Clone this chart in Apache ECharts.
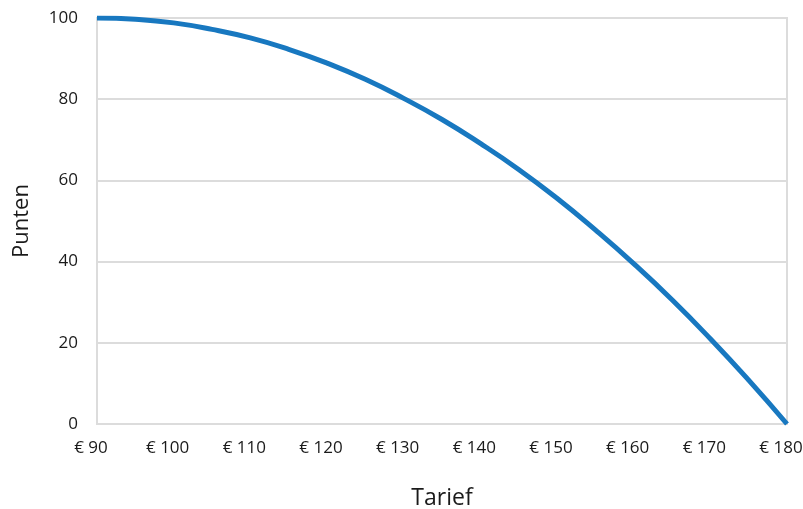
<!DOCTYPE html>
<html><head><meta charset="utf-8">
<script src="https://cdn.jsdelivr.net/npm/echarts@6/dist/echarts.min.js"></script>
<style>html,body{margin:0;padding:0;background:#fff}#c{width:803px;height:509px}</style>
</head><body><div id="c"></div>
<script>
const tarief = [90,95,100,105,110,115,120,125,130,135,140,145,150,155,160,165,170,175,180];
const punten = [100,99.7,98.8,97.2,95.1,92.3,88.9,84.9,80.2,75.0,69.1,62.7,55.6,47.8,39.5,30.6,21.0,10.8,0];
const xTitle = 'Tarief';
const yTitle = 'Punten';
const font = '"Open Sans", "Noto Sans", sans-serif';
const chart = echarts.init(document.getElementById('c'));
chart.setOption({
  animation: false,
  grid: {left: 97, right: 16, top: 18, bottom: 85, outerBoundsMode: 'none', containLabel: false, show: true, borderColor: '#dcdcdc', borderWidth: 2, backgroundColor: 'transparent'},
  xAxis: {
    type: 'value', min: 90, max: 180, interval: 10,
    name: xTitle, nameLocation: 'middle', nameGap: 63,
    nameTextStyle: {fontFamily: font, fontSize: 23, color: '#1a1a1a'},
    axisLine: {show: true, lineStyle: {color: '#dcdcdc', width: 2}},
    axisTick: {show: false},
    splitLine: {show: false},
    axisLabel: {fontFamily: font, fontSize: 17, color: '#1a1a1a', margin: 16, padding: [0, 12, 0, 0], formatter: v => '€ ' + v}
  },
  yAxis: {
    type: 'value', min: 0, max: 100, interval: 20,
    name: yTitle, nameLocation: 'middle', nameGap: 64, nameRotate: 90,
    nameTextStyle: {fontFamily: font, fontSize: 22, color: '#1a1a1a'},
    axisLine: {show: false}, axisTick: {show: false},
    splitLine: {lineStyle: {color: '#dcdcdc', width: 2}},
    axisLabel: {fontFamily: font, fontSize: 17, color: '#1a1a1a', margin: 19}
  },
  series: [{
    type: 'line', smooth: true, showSymbol: false,
    data: tarief.map((t, i) => [t, punten[i]]),
    lineStyle: {color: '#1878c0', width: 5}
  }]
});
</script></body></html>
